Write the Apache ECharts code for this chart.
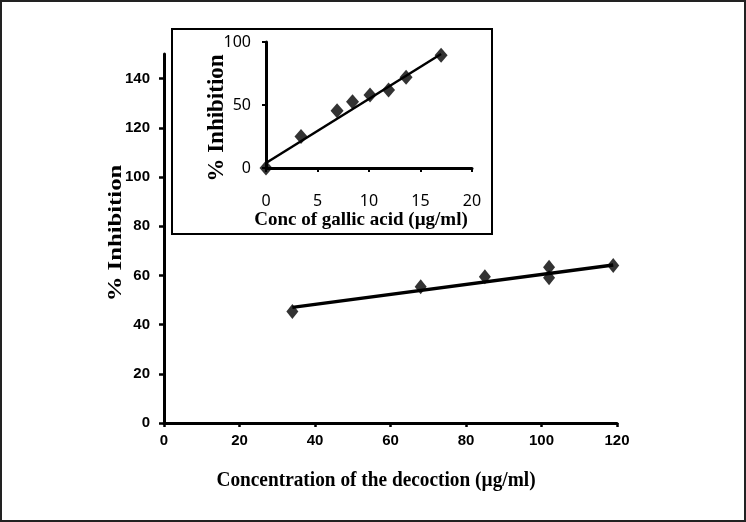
<!DOCTYPE html>
<html>
<head>
<meta charset="utf-8">
<script src="https://cdn.jsdelivr.net/npm/echarts@6/dist/echarts.min.js"></script>
<style>
html,body{margin:0;padding:0;background:#fff;}
#c{width:746px;height:522px;}
</style>
</head>
<body>
<div id="c"></div>
<script>
// Main chart: decoction
var mainX = [34, 68, 85, 102, 102, 119];
var mainY = [45.3, 55.4, 59.5, 63.3, 59.0, 64.0];
var mainFitX = [34, 119];
var mainFitY = [47.0, 64.2];
var mainXTicks = [0, 20, 40, 60, 80, 100, 120];
var mainYTicks = [0, 20, 40, 60, 80, 100, 120, 140];

// Inset chart: gallic acid
var insetX = [0, 3.4, 6.9, 8.4, 10.1, 11.9, 13.6, 17.0];
var insetY = [0, 25.0, 45.5, 52.5, 58.0, 62.0, 72.0, 89.5];
var insetFitX = [0, 17];
var insetFitY = [4, 90.5];
var insetXTicks = [0, 5, 10, 15, 20];
var insetYTicks = [0, 50, 100];

function pairs(xs, ys) { return xs.map(function (x, i) { return [x, ys[i]]; }); }

var chart = echarts.init(document.getElementById('c'), null, {renderer: 'canvas'});
var serifBold = {fontFamily: 'Liberation Serif', fontWeight: 'bold', fill: '#000'};
var tickFont = {color: '#000', fontSize: 15, fontWeight: 'bold', fontFamily: 'Liberation Sans'};

var option = {
  backgroundColor: '#fff',
  animation: false,
  grid: [
    {left: 164, right: 129, top: 54, bottom: 99},
    {left: 266, right: 274, top: 42, bottom: 354}
  ],
  xAxis: [
    {
      gridIndex: 0, type: 'value', min: 0, max: 120, interval: 20,
      axisLine: {show: true, lineStyle: {color: '#000', width: 3}},
      axisTick: {show: true, length: 4, lineStyle: {color: '#000', width: 2.5}},
      axisLabel: Object.assign({margin: 10, customValues: mainXTicks}, tickFont),
      splitLine: {show: false}
    },
    {
      gridIndex: 1, type: 'value', min: 0, max: 20, interval: 5,
      axisLine: {show: true, lineStyle: {color: '#000', width: 3}},
      axisTick: {show: true, length: 4, lineStyle: {color: '#000', width: 2}, customValues: insetXTicks},
      axisLabel: {margin: 25, color: '#000', fontSize: 16, fontFamily: 'Noto Sans', customValues: insetXTicks},
      splitLine: {show: false}
    }
  ],
  yAxis: [
    {
      gridIndex: 0, type: 'value', min: 0, max: 150, interval: 20,
      axisLine: {show: true, lineStyle: {color: '#000', width: 3}},
      axisTick: {show: true, length: 5, lineStyle: {color: '#000', width: 2.5}, customValues: mainYTicks},
      axisLabel: Object.assign({margin: 14, customValues: mainYTicks}, tickFont),
      splitLine: {show: false}
    },
    {
      gridIndex: 1, type: 'value', min: 0, max: 100, interval: 50,
      axisLine: {show: true, lineStyle: {color: '#000', width: 3}},
      axisTick: {show: true, length: 4, lineStyle: {color: '#000', width: 2}, customValues: insetYTicks},
      axisLabel: {margin: 15, color: '#000', fontSize: 16, fontFamily: 'Noto Sans', customValues: insetYTicks},
      splitLine: {show: false}
    }
  ],
  series: [
    {
      type: 'line', xAxisIndex: 0, yAxisIndex: 0, data: pairs(mainFitX, mainFitY),
      showSymbol: false, lineStyle: {color: '#000', width: 3.5}, z: 3
    },
    {
      type: 'scatter', xAxisIndex: 0, yAxisIndex: 0, data: pairs(mainX, mainY),
      symbol: 'diamond', symbolSize: [12, 15], itemStyle: {color: '#000'}, z: 4
    },
    {
      type: 'line', xAxisIndex: 1, yAxisIndex: 1, data: pairs(insetFitX, insetFitY),
      showSymbol: false, lineStyle: {color: '#000', width: 2.5}, z: 3
    },
    {
      type: 'scatter', xAxisIndex: 1, yAxisIndex: 1, data: pairs(insetX, insetY),
      symbol: 'diamond', symbolSize: [13, 15], itemStyle: {color: '#000'}, z: 4
    }
  ],
  graphic: [
    {type: 'rect', z: -1, shape: {x: 1, y: 1, width: 744, height: 520},
      style: {fill: 'none', stroke: '#222', lineWidth: 2}},
    {type: 'rect', z: 1, shape: {x: 172, y: 29, width: 320, height: 205},
      style: {fill: 'none', stroke: '#000', lineWidth: 2}},
    {type: 'text', x: 376, y: 481, scaleX: 0.92,
      style: Object.assign({text: 'Concentration of the decoction (\u00b5g/ml)', fontSize: 21,
        align: 'center', verticalAlign: 'middle'}, serifBold)},
    {type: 'text', x: 116, y: 233, rotation: Math.PI / 2, scaleX: 1.3,
      style: Object.assign({text: '% Inhibition', fontSize: 19,
        align: 'center', verticalAlign: 'middle'}, serifBold)},
    {type: 'text', x: 361, y: 220,
      style: Object.assign({text: 'Conc of gallic acid (\u00b5g/ml)', fontSize: 19,
        align: 'center', verticalAlign: 'middle'}, serifBold)},
    {type: 'text', x: 217, y: 118, rotation: Math.PI / 2,
      style: Object.assign({text: '% Inhibition', fontSize: 23,
        align: 'center', verticalAlign: 'middle'}, serifBold)}
  ]
};
chart.setOption(option);
</script>
</body>
</html>
